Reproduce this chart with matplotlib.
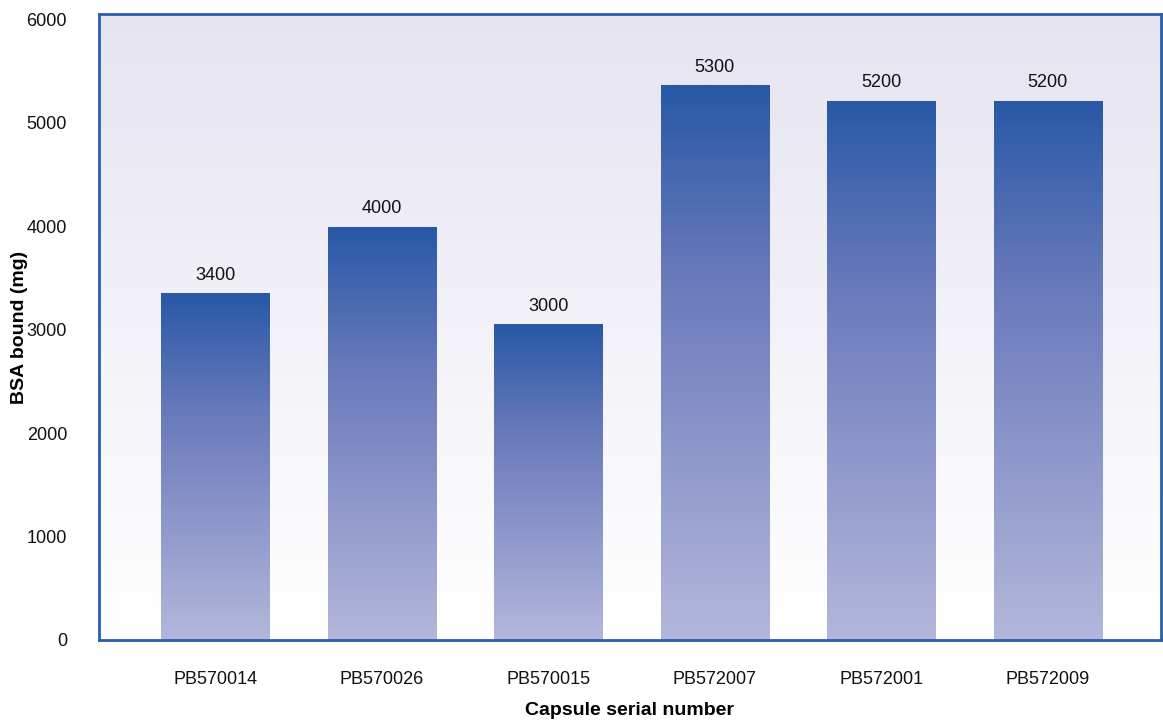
import numpy as np
import matplotlib.pyplot as plt
from matplotlib.colors import LinearSegmentedColormap

plt.rcParams['font.family'] = ['Liberation Sans', 'DejaVu Sans']

# ---- data ----
capsules = ["PB570014", "PB570026", "PB570015", "PB572007", "PB572001", "PB572009"]
bsa_bound = [3350, 3990, 3050, 5360, 5210, 5210]
bar_labels = ["3400", "4000", "3000", "5300", "5200", "5200"]

frame_col = "#2B5DB0"
bar_cmap = LinearSegmentedColormap.from_list(
    "bars", ["#B4B7DB", "#8E98CB", "#6779BA", "#2858A6"])
bg_cmap = LinearSegmentedColormap.from_list("bg", ["#FFFFFF", "#F3F2F8", "#E5E4F0"])

fig = plt.figure(figsize=(11.63, 7.23), dpi=100)
ax = fig.add_axes([0.0851, 0.1148, 0.9132, 0.8658])

ymax = 6050
x = np.arange(len(capsules))
width = 0.65

# background gradient
grad = np.linspace(0, 1, 256).reshape(-1, 1)
ax.imshow(grad, cmap=bg_cmap, aspect="auto", origin="lower",
          extent=(-0.7, 5.68, 0, ymax), zorder=0)

bars = ax.bar(x, bsa_bound, width=width, color="none", edgecolor="none", zorder=2)
for b, val in zip(bars, bsa_bound):
    x0 = b.get_x()
    im = ax.imshow(grad, cmap=bar_cmap, aspect="auto", origin="lower",
                   extent=(x0, x0 + width, 0, val), zorder=2)
    im.set_clip_path(b)

for xi, val, lab in zip(x, bsa_bound, bar_labels):
    ax.annotate(lab, xy=(xi, val), xytext=(0, 7), textcoords="offset points",
                ha="center", va="bottom", fontsize=13, color="#111111")

ax.set_xlim(-0.7, 5.68)
ax.set_ylim(0, ymax)
ax.set_yticks(range(0, 6001, 1000))
ax.set_xticks(x)
ax.set_xticklabels(capsules)
ax.tick_params(length=0, labelsize=13, colors="#111111")
ax.tick_params(axis="y", pad=23)
ax.tick_params(axis="x", pad=22)

for s in ax.spines.values():
    s.set_color(frame_col)
    s.set_linewidth(2)

ax.set_xlabel("Capsule serial number", fontsize=14, fontweight="bold")
ax.set_ylabel("BSA bound (mg)", fontsize=14, fontweight="bold")
ax.xaxis.set_label_coords(0.5, -0.1134)
ax.yaxis.set_label_coords(-0.0744, 0.5)
ax.xaxis.label.set_va("center")
ax.yaxis.label.set_va("center")

fig.savefig("out.png", dpi=100, facecolor="white")
